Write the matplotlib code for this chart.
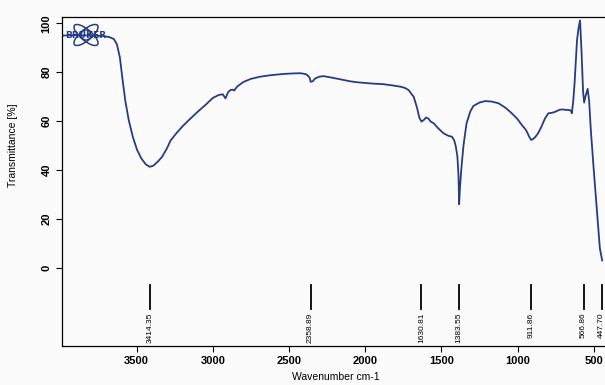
import matplotlib.pyplot as plt
from matplotlib.patches import Ellipse, Circle

# spectrum (wavenumber cm-1, transmittance %)
wavenumber = [3990, 3900, 3800, 3720, 3680, 3650, 3630, 3610, 3595, 3575,
              3552, 3525, 3497, 3470, 3440, 3414, 3390, 3360, 3333, 3300,
              3278, 3240, 3200, 3158, 3100, 3049, 3000, 2961, 2935, 2917,
              2900, 2885, 2870, 2860, 2841, 2800, 2750, 2688, 2620, 2535,
              2480, 2425, 2395, 2381, 2365, 2358, 2345, 2327, 2300, 2272,
              2220, 2163, 2100, 2053, 1960, 1879, 1820, 1769, 1740, 1715,
              1695, 1682, 1660, 1645, 1631, 1615, 1600, 1585, 1570, 1550,
              1520, 1485, 1455, 1430, 1415, 1405, 1395, 1388, 1383.5, 1378,
              1368, 1355, 1335, 1310, 1290, 1250, 1212, 1170, 1125, 1080,
              1038, 1000, 972, 950, 939, 925, 911, 895, 880, 866,
              845, 820, 798, 775, 754, 730, 710, 680, 655, 648,
              644, 635, 626, 610, 600, 590, 580, 570, 563, 555,
              540, 530, 520, 500, 480, 460, 445]
transmittance = [95.0, 95.2, 95.0, 94.8, 94.4, 93.6, 91.5, 86.0, 78.2, 68.5,
                 60.4, 53.5, 48.2, 44.8, 42.3, 41.3, 41.8, 43.5, 45.4, 49.0,
                 52.0, 55.0, 57.8, 60.4, 63.8, 66.6, 69.5, 70.7, 71.0, 69.3,
                 71.8, 72.7, 72.9, 72.5, 74.1, 76.0, 77.3, 78.2, 78.8, 79.3,
                 79.5, 79.6, 79.3, 78.9, 77.8, 76.1, 76.3, 77.5, 78.2, 78.4,
                 77.8, 77.1, 76.3, 75.9, 75.4, 75.1, 74.6, 74.1, 73.6, 72.7,
                 71.0, 70.0, 65.5, 61.5, 59.8, 60.5, 61.5, 61.0, 59.8, 59.1,
                 57.0, 55.0, 54.0, 53.6, 52.0, 49.5, 45.5, 38.0, 26.0, 33.0,
                 41.3, 50.0, 59.1, 64.0, 66.2, 67.6, 68.2, 68.0, 67.3, 65.5,
                 63.2, 60.8, 58.4, 56.8, 55.7, 53.8, 52.3, 52.8, 53.8, 55.0,
                 57.5, 61.1, 63.2, 63.4, 63.8, 64.5, 64.8, 64.6, 64.5, 64.0,
                 63.2, 68.0, 75.5, 93.0, 98.0, 101.2, 88.0, 72.0, 67.6, 70.0,
                 73.2, 68.0, 57.0, 40.0, 24.0, 8.0, 3.0]

peak_labels = ['3414.35', '2358.89', '1630.81', '1383.55', '911.86', '566.86', '447.70']
peak_pos = [3414.35, 2358.89, 1630.81, 1383.55, 911.86, 566.86, 447.70]

x_ticks = [3500, 3000, 2500, 2000, 1500, 1000, 500]
y_ticks = [0, 20, 40, 60, 80, 100]

navy = '#263c86'

fig = plt.figure(figsize=(6.05, 3.85), dpi=100)
fig.patch.set_facecolor('#fbfbfb')
ax = fig.add_axes([62 / 605, 39 / 385, 547 / 605, 329 / 385])
ax.set_facecolor('#fbfbfb')

ax.plot(wavenumber, transmittance, color=navy, lw=1.3)

# peak markers below the zero line
for pos, lab in zip(peak_pos, peak_labels):
    ax.plot([pos, pos], [-7, -16.9], color='black', lw=1.3)
    ax.text(pos, -18.3, lab, rotation=90, ha='center', va='top',
            fontsize=6, family='Liberation Sans')

ax.set_xlim(3990, 400)
ax.set_ylim(-32, 102.6)
ax.set_xticks(x_ticks)
ax.set_yticks(y_ticks)
ax.tick_params(direction='out', length=4, width=0.8)
for lab in ax.get_xticklabels():
    lab.set_fontsize(8)
    lab.set_fontweight('bold')
    lab.set_family('Liberation Sans')
for lab in ax.get_yticklabels():
    lab.set_fontsize(8)
    lab.set_fontweight('bold')
    lab.set_family('Liberation Sans')
    lab.set_rotation(90)
    lab.set_va('center')

ax.set_xlabel('Wavenumber cm-1', fontsize=7.5, family='Liberation Sans', labelpad=4)
ax.set_ylabel('Transmittance [%]', fontsize=7.5, family='Liberation Sans')
ax.yaxis.set_label_coords(-0.08, 0.609)
for s in ax.spines.values():
    s.set_linewidth(0.9)

# bruker logo in the top-left corner
logo = fig.add_axes([62 / 605, 335 / 385, 48 / 605, 33 / 385])
logo.set_xlim(0, 48)
logo.set_ylim(0, 33)
logo.axis('off')
logo.patch.set_alpha(0)
logo.add_patch(Ellipse((24, 15), 30, 11, angle=40, fill=False, ec=navy, lw=1.1))
logo.add_patch(Ellipse((24, 15), 30, 11, angle=-40, fill=False, ec=navy, lw=1.1))
logo.add_patch(Circle((24, 15), 5, fill=False, ec=navy, lw=1.0))
logo.text(24, 15, 'BRUKER', ha='center', va='center', fontsize=6.5,
          fontweight='bold', color=navy)

fig.savefig('out.png', dpi=100, facecolor=fig.get_facecolor())
